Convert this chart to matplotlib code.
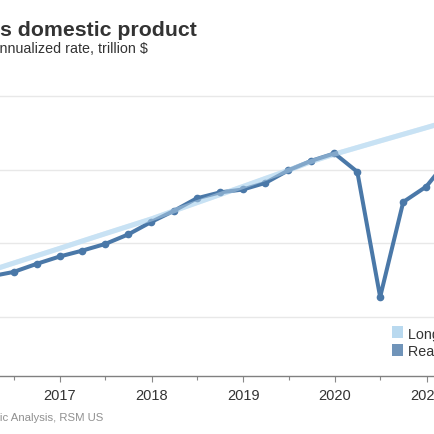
"""
Real GDP vs long-term trend, quarterly, trillion $ (cropped view)
"""

import pandas as pd
import matplotlib
matplotlib.use("Agg")
import matplotlib.pyplot as plt
import matplotlib.dates as mdates
from matplotlib.patches import Rectangle

plt.rcParams['font.family'] = ['Liberation Sans', 'DejaVu Sans']

# quarter-end dates
quarters = ['2016-03-31', '2016-06-30', '2016-09-30', '2016-12-31',
            '2017-03-31', '2017-06-30', '2017-09-30', '2017-12-31',
            '2018-03-31', '2018-06-30', '2018-09-30', '2018-12-31',
            '2019-03-31', '2019-06-30', '2019-09-30', '2019-12-31',
            '2020-03-31', '2020-06-30', '2020-09-30', '2020-12-31',
            '2021-03-31']
real_gdp = [17.55, 17.61, 17.72, 17.82,
            17.90, 17.99, 18.12, 18.29,
            18.44, 18.61, 18.69, 18.73,
            18.82, 18.99, 19.12, 19.22,
            18.97, 17.27, 18.56, 18.77,
            19.15]
trend = [17.63, 17.73, 17.83, 17.93,
         18.03, 18.13, 18.23, 18.33,
         18.44, 18.55, 18.66, 18.77,
         18.88, 18.99, 19.11, 19.21,
         19.30, 19.39, 19.48, 19.57,
         19.66]
legend_labels = ['Long-term trend', 'Real GDP']
legend_colors = ['#b9d9ef', '#7094b9']

dark = '#4a78a8'
light = '#c8e2f4'

dates = pd.to_datetime(quarters)

W = H = 435
fig = plt.figure(figsize=(W / 100, H / 100), dpi=100)
# axes runs past both edges of the canvas (cropped view)
ax = fig.add_axes([-0.0731, 0.1322, 1.1575, 0.6533])

# trend under the GDP line, plus a faint copy on top so overlaps blend
ax.plot(dates, trend, color=light, lw=3.6, solid_capstyle='butt', zorder=2)
ax.plot(dates, real_gdp, color=dark, lw=2.9, marker='o', ms=4.5,
        solid_joinstyle='round', zorder=3)
ax.plot(dates, trend, color=light, lw=3.6, alpha=0.45,
        solid_capstyle='butt', zorder=4)

ax.set_xlim(pd.Timestamp('2016-01-01'), pd.Timestamp('2021-06-30'))
ax.set_ylim(16.19, 20.05)
ax.set_yticks([17, 18, 19, 20])
ax.tick_params(axis='y', length=0, labelleft=False)

ax.xaxis.set_major_locator(mdates.YearLocator())
ax.xaxis.set_major_formatter(mdates.DateFormatter('%Y'))
ax.xaxis.set_minor_locator(mdates.MonthLocator(bymonth=7))
ax.tick_params(axis='x', which='major', length=4, width=0.8, color='#888888',
               labelsize=10.5, labelcolor='#333333', pad=4)
ax.tick_params(axis='x', which='minor', length=3, width=0.8, color='#888888')

for s in ['top', 'left', 'right']:
    ax.spines[s].set_visible(False)
ax.spines['bottom'].set_color('#808080')
ax.spines['bottom'].set_linewidth(1.0)

ax.grid(axis='y', color='#e8e8e8', lw=1.0, zorder=0)
ax.set_axisbelow(True)

# legend, partly outside the canvas (pixel placement, top-left origin)
for i, (lab, col) in enumerate(zip(legend_labels, legend_colors)):
    top = 327.3 + i * 17.7
    fig.add_artist(Rectangle((391.7 / W, 1 - (top + 11.6) / H), 11.6 / W, 11.6 / H,
                             transform=fig.transFigure, facecolor=col,
                             edgecolor='none'))
    fig.text(408 / W, 1 - (top + 5.9) / H, lab, ha='left',
             va='center_baseline', fontsize=10.3, color='#333333')

# titles and source, left parts fall off the canvas
fig.text(197 / W, 1 - 36 / H, 'Real gross domestic product',
         ha='right', va='baseline', fontsize=15.3, fontweight='bold',
         color='#333333')
fig.text(148 / W, 1 - 53 / H, 'Seasonally adjusted annualized rate, trillion $',
         ha='right', va='baseline', fontsize=10.3, color='#333333')
fig.text(103 / W, 1 - 421 / H, 'Source: Bureau of Economic Analysis, RSM US',
         ha='right', va='baseline', fontsize=8.2, color='#909090')

fig.savefig('out.png', dpi=100)
